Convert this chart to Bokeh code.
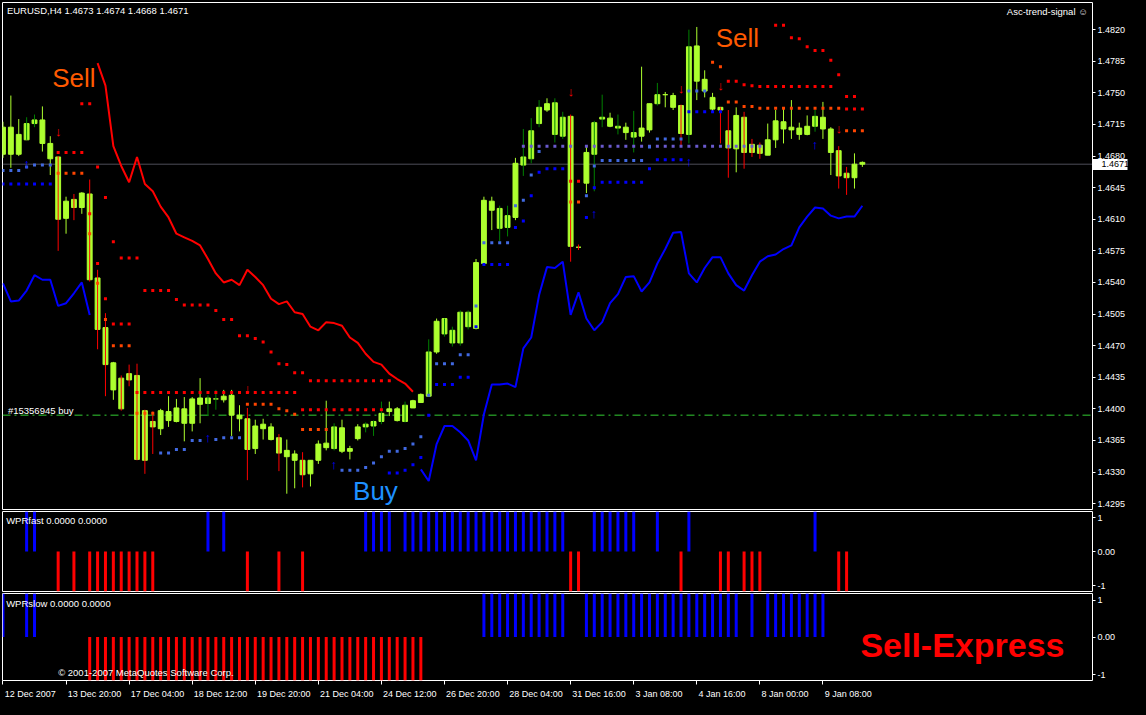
from bokeh.plotting import figure
from bokeh.layouts import column
from bokeh.models import (Range1d, FixedTicker, Span, LinearAxis, PrintfTickFormatter,
                          GlobalInlineStyleSheet)
from bokeh.core.properties import value
from bokeh.embed import file_html
from bokeh.resources import INLINE

# ------------------------------------------------------------------ data
header_text = "EURUSD,H4  1.4673 1.4674 1.4668 1.4671"
indicator_name = "Asc-trend-signal \u263a"
order_label = "#15356945 buy"
order_price = 1.4393
current_price = 1.4671

opens = [
    1.4682, 1.4712, 1.4682, 1.4698, 1.4716, 1.4720, 1.4694, 1.4679, 1.4611, 1.4632,
    1.4623, 1.4638, 1.4545, 1.4490, 1.4451, 1.4434, 1.4439, 1.4437, 1.4398, 1.4386,
    1.4378, 1.4397, 1.4386, 1.4400, 1.4384, 1.4405, 1.4406, 1.4411, 1.4410, 1.4415,
    1.4393, 1.4389, 1.4356, 1.4378, 1.4380, 1.4368, 1.4354, 1.4350, 1.4343, 1.4328,
    1.4343, 1.4357, 1.4356, 1.4379, 1.4353, 1.4367, 1.4380, 1.4381, 1.4386, 1.4397,
    1.4400, 1.4386, 1.4401, 1.4407, 1.4414, 1.4463, 1.4483, 1.4487, 1.4473, 1.4507,
    1.4489, 1.4561, 1.4630, 1.4600, 1.4601, 1.4612, 1.4670, 1.4677, 1.4716, 1.4731,
    1.4739, 1.4702, 1.4724, 1.4579, 1.4650, 1.4682, 1.4721, 1.4722, 1.4711, 1.4712,
    1.4701, 1.4702, 1.4709, 1.4738, 1.4748, 1.4747, 1.4736, 1.4704, 1.4802, 1.4765,
    1.4745, 1.4734, 1.4708, 1.4688, 1.4723, 1.4693, 1.4692, 1.4681, 1.4698, 1.4718,
    1.4712, 1.4711, 1.4704, 1.4713, 1.4723, 1.4710, 1.4686, 1.4661, 1.4656, 1.4673,
]
highs = [
    1.4718, 1.4747, 1.4721, 1.4723, 1.4726, 1.4735, 1.4702, 1.4680, 1.4635, 1.4638,
    1.4640, 1.4654, 1.4554, 1.4506, 1.4452, 1.4437, 1.4449, 1.4450, 1.4399, 1.4397,
    1.4400, 1.4414, 1.4411, 1.4413, 1.4413, 1.4434, 1.4415, 1.4421, 1.4421, 1.4421,
    1.4404, 1.4401, 1.4388, 1.4389, 1.4384, 1.4372, 1.4366, 1.4354, 1.4352, 1.4343,
    1.4365, 1.4409, 1.4384, 1.4388, 1.4359, 1.4383, 1.4385, 1.4387, 1.4408, 1.4408,
    1.4402, 1.4408, 1.4410, 1.4417, 1.4477, 1.4500, 1.4500, 1.4491, 1.4509, 1.4509,
    1.4566, 1.4635, 1.4635, 1.4625, 1.4625, 1.4678, 1.4710, 1.4722, 1.4742, 1.4744,
    1.4744, 1.4729, 1.4726, 1.4582, 1.4691, 1.4719, 1.4748, 1.4728, 1.4726, 1.4717,
    1.4730, 1.4779, 1.4738, 1.4761, 1.4751, 1.4750, 1.4737, 1.4820, 1.4823, 1.4775,
    1.4750, 1.4734, 1.4731, 1.4734, 1.4729, 1.4699, 1.4695, 1.4716, 1.4731, 1.4732,
    1.4742, 1.4717, 1.4725, 1.4731, 1.4740, 1.4712, 1.4691, 1.4668, 1.4683, 1.4674,
]
lows = [
    1.4678, 1.4667, 1.4680, 1.4698, 1.4712, 1.4685, 1.4659, 1.4575, 1.4594, 1.4609,
    1.4616, 1.4541, 1.4466, 1.4414, 1.4410, 1.4398, 1.4425, 1.4343, 1.4328, 1.4350,
    1.4371, 1.4380, 1.4385, 1.4364, 1.4375, 1.4384, 1.4392, 1.4399, 1.4407, 1.4370,
    1.4375, 1.4321, 1.4350, 1.4366, 1.4365, 1.4331, 1.4306, 1.4312, 1.4313, 1.4314,
    1.4339, 1.4354, 1.4354, 1.4351, 1.4344, 1.4365, 1.4374, 1.4370, 1.4383, 1.4392,
    1.4386, 1.4385, 1.4401, 1.4407, 1.4414, 1.4461, 1.4480, 1.4469, 1.4470, 1.4488,
    1.4488, 1.4560, 1.4598, 1.4586, 1.4591, 1.4609, 1.4658, 1.4672, 1.4712, 1.4729,
    1.4695, 1.4699, 1.4563, 1.4576, 1.4639, 1.4641, 1.4712, 1.4712, 1.4704, 1.4698,
    1.4684, 1.4696, 1.4706, 1.4736, 1.4734, 1.4731, 1.4691, 1.4694, 1.4742, 1.4745,
    1.4729, 1.4694, 1.4656, 1.4662, 1.4666, 1.4679, 1.4677, 1.4681, 1.4689, 1.4694,
    1.4699, 1.4698, 1.4703, 1.4707, 1.4699, 1.4659, 1.4644, 1.4637, 1.4644, 1.4668,
]
closes = [
    1.4712, 1.4682, 1.4704, 1.4716, 1.4720, 1.4694, 1.4677, 1.4610, 1.4630, 1.4623,
    1.4639, 1.4543, 1.4488, 1.4449, 1.4421, 1.4400, 1.4432, 1.4344, 1.4343, 1.4380,
    1.4398, 1.4387, 1.4401, 1.4384, 1.4411, 1.4412, 1.4412, 1.4411, 1.4414, 1.4393,
    1.4389, 1.4355, 1.4381, 1.4383, 1.4366, 1.4351, 1.4347, 1.4343, 1.4327, 1.4343,
    1.4361, 1.4362, 1.4380, 1.4353, 1.4356, 1.4380, 1.4383, 1.4386, 1.4395, 1.4400,
    1.4387, 1.4404, 1.4409, 1.4416, 1.4463, 1.4497, 1.4500, 1.4473, 1.4507, 1.4491,
    1.4562, 1.4631, 1.4620, 1.4622, 1.4614, 1.4672, 1.4679, 1.4708, 1.4734, 1.4738,
    1.4704, 1.4723, 1.4580, 1.4579, 1.4684, 1.4717, 1.4723, 1.4713, 1.4713, 1.4706,
    1.4706, 1.4711, 1.4738, 1.4748, 1.4748, 1.4734, 1.4705, 1.4801, 1.4763, 1.4752,
    1.4732, 1.4731, 1.4689, 1.4725, 1.4684, 1.4684, 1.4683, 1.4698, 1.4719, 1.4710,
    1.4709, 1.4704, 1.4713, 1.4724, 1.4710, 1.4684, 1.4658, 1.4656, 1.4671, 1.4671,
]
# wick colour seen on each candle: y = yellow-green, g = dark green, r = red
wick_kind = list(
    "yyyggyyryr" "yrrryrrrrr" "yyyyyyggyy" "yryyyryyry" "yygyyygggy"
    "ygyygygggg" "yyyggygggy" "ggrryggygy" "gyygyyrgyy" "yrryrrryyy"
    "yyygyyrryy"
)

# trailing stop dots (bar index, price)
stop_red_hi_bar = list(range(10, 50)) + list(range(98, 109))
stop_red_hi = [
    1.4738, 1.4738, 1.4668, 1.4634, 1.4585, 1.4567, 1.4567, 1.4567, 1.4531, 1.4531,
    1.4531, 1.4531, 1.4521, 1.4515, 1.4515, 1.4515, 1.4515, 1.4509, 1.4499, 1.4499,
    1.4481, 1.4481, 1.4478, 1.4474, 1.4463, 1.4450, 1.4449, 1.4440, 1.4440, 1.4431,
    1.4431, 1.4431, 1.4431, 1.4431, 1.4431, 1.4431, 1.4431, 1.4431, 1.4431, 1.4431,
    1.4825, 1.4825, 1.4811, 1.4810, 1.4801, 1.4797, 1.4797, 1.4786, 1.4770, 1.4746,
    1.4746,
]
stop_red_lo_bar = list(range(7, 49)) + [72, 73] + list(range(92, 106)) + [107, 108, 109]
stop_red_lo = [
    1.4684, 1.4684, 1.4684, 1.4684, 1.4616, 1.4561, 1.4522, 1.4494, 1.4494, 1.4494,
    1.4418, 1.4418, 1.4418, 1.4418, 1.4418, 1.4418, 1.4418, 1.4418, 1.4418, 1.4418,
    1.4418, 1.4418, 1.4418, 1.4418, 1.4418, 1.4418, 1.4418, 1.4418, 1.4418, 1.4418,
    1.4418, 1.4399, 1.4399, 1.4399, 1.4399, 1.4399, 1.4399, 1.4399, 1.4399, 1.4399,
    1.4399, 1.4399,
    1.4652, 1.4652,
    1.4763, 1.4763, 1.4759, 1.4758, 1.4757, 1.4757, 1.4757, 1.4757, 1.4757, 1.4757,
    1.4757, 1.4757, 1.4757, 1.4757,
    1.4732, 1.4732, 1.4732,
]
stop_orange_bar = list(range(7, 20)) + list(range(31, 42)) + [72, 73] + list(range(90, 110))
stop_orange = [
    1.4661, 1.4661, 1.4661, 1.4661, 1.4594, 1.4539, 1.4499, 1.4470, 1.4470, 1.4470,
    1.4395, 1.4395, 1.4395,
    1.4405, 1.4405, 1.4405, 1.4405, 1.4400, 1.4398, 1.4394, 1.4377, 1.4377, 1.4377,
    1.4377,
    1.4629, 1.4629,
    1.4784, 1.4779, 1.4740, 1.4740, 1.4735, 1.4735, 1.4733, 1.4733, 1.4733, 1.4733,
    1.4733, 1.4733, 1.4733, 1.4733, 1.4733, 1.4733, 1.4733, 1.4708, 1.4708, 1.4708,
]
stop_royal_bar = (list(range(0, 7)) + list(range(20, 26)) + list(range(27, 31))
                  + list(range(43, 69)) + list(range(74, 90)))
stop_royal = [
    1.4664, 1.4664, 1.4664, 1.4668, 1.4670, 1.4670, 1.4670,
    1.4351, 1.4351, 1.4355, 1.4355, 1.4365, 1.4365,
    1.4366, 1.4368, 1.4368, 1.4368,
    1.4332, 1.4332, 1.4332, 1.4335, 1.4340, 1.4347, 1.4353, 1.4353, 1.4356, 1.4361,
    1.4369, 1.4415, 1.4450, 1.4450, 1.4450, 1.4460, 1.4460, 1.4514, 1.4584, 1.4584,
    1.4584, 1.4584, 1.4625, 1.4631, 1.4659, 1.4685,
    1.4636, 1.4669, 1.4675, 1.4675, 1.4675, 1.4675, 1.4675, 1.4675, 1.4690, 1.4699,
    1.4699, 1.4699, 1.4699, 1.4752, 1.4752, 1.4752,
]
stop_blue_bar = list(range(0, 7)) + list(range(49, 72)) + list(range(74, 92))
stop_blue = [
    1.4649, 1.4649, 1.4649, 1.4649, 1.4649, 1.4649, 1.4649,
    1.4329, 1.4329, 1.4332, 1.4338, 1.4346, 1.4393, 1.4427, 1.4427, 1.4427, 1.4435,
    1.4435, 1.4491, 1.4560, 1.4560, 1.4560, 1.4560, 1.4601, 1.4608, 1.4636, 1.4662,
    1.4666, 1.4666, 1.4666,
    1.4612, 1.4645, 1.4651, 1.4651, 1.4651, 1.4651, 1.4651, 1.4651, 1.4666, 1.4676,
    1.4676, 1.4676, 1.4676, 1.4729, 1.4729, 1.4729, 1.4729, 1.4729,
]
stop_violet_bar = list(range(66, 73)) + list(range(74, 97))
stop_violet = [
    1.4691, 1.4691, 1.4691, 1.4691, 1.4691, 1.4691, 1.4691, 1.4691, 1.4691, 1.4691,
    1.4691, 1.4691, 1.4691, 1.4691, 1.4691, 1.4691, 1.4691, 1.4691, 1.4691, 1.4691,
    1.4691, 1.4691, 1.4691, 1.4691, 1.4691, 1.4691, 1.4691, 1.4691, 1.4691, 1.4691,
]

sell_arrow_bar = [7, 31, 72, 86, 91, 106]
sell_arrow = [1.4707, 1.4422, 1.4751, 1.4755, 1.4758, 1.4710]
buy_arrow_bar = [3, 26, 42, 75, 87, 103]
buy_arrow = [1.4672, 1.4368, 1.4338, 1.4616, 1.4674, 1.4693]

red_line_bar = list(range(12, 53))
red_line = [
    1.4783, 1.4758, 1.4691, 1.4669, 1.4651, 1.4679, 1.4649, 1.4641, 1.4624, 1.4612,
    1.4594, 1.4590, 1.4586, 1.4581, 1.4566, 1.4550, 1.4540, 1.4543, 1.4537, 1.4554,
    1.4546, 1.4537, 1.4522, 1.4516, 1.4519, 1.4507, 1.4505, 1.4491, 1.4487, 1.4496,
    1.4495, 1.4492, 1.4479, 1.4473, 1.4461, 1.4452, 1.4449, 1.4439, 1.4433, 1.4428,
    1.4419,
]
blue_line_a_bar = list(range(0, 12))
blue_line_a = [1.4539, 1.4519, 1.4520, 1.4531, 1.4548, 1.4543, 1.4543, 1.4514,
               1.4517, 1.4528, 1.4540, 1.4504]
blue_line_b_bar = list(range(53, 110))
blue_line_b = [
    1.4333, 1.4320, 1.4361, 1.4381, 1.4381, 1.4374, 1.4365, 1.4343, 1.4394, 1.4427,
    1.4427, 1.4428, 1.4424, 1.4467, 1.4479, 1.4526, 1.4557, 1.4556, 1.4563, 1.4504,
    1.4529, 1.4500, 1.4487, 1.4496, 1.4517, 1.4527, 1.4546, 1.4547, 1.4530, 1.4540,
    1.4561, 1.4577, 1.4595, 1.4596, 1.4550, 1.4540, 1.4556, 1.4568, 1.4568, 1.4550,
    1.4537, 1.4531, 1.4548, 1.4563, 1.4569, 1.4571, 1.4577, 1.4581, 1.4601, 1.4613,
    1.4623, 1.4622, 1.4614, 1.4611, 1.4613, 1.4613, 1.4625,
]

wpr_fast = [
    0, 0, 0, 1, 1, 0, 0, -1, 0, -1,
    0, -1, -1, -1, -1, -1, -1, -1, -1, -1,
    0, 0, 0, 0, 0, 0, 1, 0, 1, 0,
    0, -1, 0, 0, 0, -1, 0, 0, -1, 0,
    0, 0, 0, 0, 0, 0, 1, 1, 1, 1,
    0, 1, 1, 1, 1, 1, 1, 1, 1, 1,
    1, 1, 1, 1, 1, 1, 1, 1, 1, 1,
    1, 1, -1, -1, 0, 1, 1, 1, 1, 1,
    1, 0, 0, 1, 0, 0, -1, 1, 0, 0,
    0, -1, -1, 0, -1, -1, -1, 0, 0, 0,
    0, 0, 0, 1, 0, 0, -1, -1, 0, 0,
]
wpr_slow = [
    1, 0, 0, 1, 1, 0, 0, 0, 0, 0,
    0, -1, -1, -1, -1, -1, -1, -1, -1, -1,
    -1, -1, -1, -1, -1, -1, -1, -1, -1, -1,
    -1, -1, -1, -1, -1, -1, -1, -1, -1, -1,
    -1, -1, -1, -1, -1, -1, -1, -1, -1, -1,
    -1, -1, -1, -1, 0, 0, 0, 0, 0, 0,
    0, 1, 1, 1, 1, 1, 1, 1, 1, 1,
    1, 1, 0, 0, 1, 1, 1, 1, 1, 1,
    1, 1, 1, 1, 1, 1, 1, 1, 1, 1,
    1, 1, 1, 1, 0, 1, 0, 1, 1, 1,
    1, 1, 1, 1, 1, 0, 0, 0, 0, 0,
]

price_ticks = [1.4295, 1.4330, 1.4365, 1.4400, 1.4435, 1.4470, 1.4505, 1.4540,
               1.4575, 1.4610, 1.4645, 1.4680, 1.4715, 1.4750, 1.4785, 1.4820]
time_tick_bars = [0, 8, 16, 24, 32, 40, 48, 56, 64, 72, 80, 88, 96, 104]
time_labels = ["12 Dec 2007", "13 Dec 20:00", "17 Dec 04:00", "18 Dec 12:00",
               "19 Dec 20:00", "21 Dec 04:00", "24 Dec 12:00", "26 Dec 20:00",
               "28 Dec 04:00", "31 Dec 16:00", "3 Jan 08:00", "4 Jan 16:00",
               "8 Jan 00:00", "9 Jan 08:00"]

for a, b in [(stop_red_hi_bar, stop_red_hi), (stop_red_lo_bar, stop_red_lo),
             (stop_orange_bar, stop_orange), (stop_royal_bar, stop_royal),
             (stop_blue_bar, stop_blue), (stop_violet_bar, stop_violet),
             (red_line_bar, red_line), (blue_line_a_bar, blue_line_a),
             (blue_line_b_bar, blue_line_b)]:
    assert len(a) == len(b), (len(a), len(b))
assert len(wick_kind) == len(opens) == len(highs) == len(lows) == len(closes) == 110

# ------------------------------------------------------------------ layout
FONT = "Liberation Sans"
FW = 1090
XR = Range1d(-0.06, 138.19)


def style_y_axis(ax):
    ax.axis_line_color = None
    ax.major_tick_line_color = "white"
    ax.major_tick_in = 0
    ax.major_tick_out = 3
    ax.minor_tick_line_color = None
    ax.minor_tick_in = 0
    ax.minor_tick_out = 0
    ax.major_label_text_color = "white"
    ax.major_label_text_font = FONT
    ax.major_label_text_font_size = "9px"
    ax.major_label_standoff = 2


def make_fig(frame_h, yr, top, bottom, x_axis_location=None):
    p = figure(frame_width=FW, frame_height=frame_h, x_range=XR, y_range=yr,
               output_backend="svg", toolbar_location=None,
               background_fill_color="black", border_fill_color="black",
               outline_line_color="white", outline_line_width=1,
               y_axis_location="right", x_axis_location=x_axis_location,
               min_border_left=2, min_border_right=38,
               min_border_top=top, min_border_bottom=bottom)
    p.grid.visible = False
    style_y_axis(p.yaxis[0])
    return p


# ---------------- main price panel
p1 = make_fig(507, Range1d(1.42885, 1.48501), 2, 1)
price_axis = p1.yaxis[0]
price_axis.ticker = FixedTicker(ticks=price_ticks)
price_axis.formatter = PrintfTickFormatter(format="%.4f")

# current price marker on the price scale:
#  - box_axis (next to the frame, zero width): a thick white tick = the white box
#  - text_axis (after the price labels, ~zero width): black price text pulled back onto the box
box_axis = LinearAxis(ticker=FixedTicker(ticks=[current_price]),
                      major_label_overrides={current_price: ""})
box_axis.axis_line_color = None
box_axis.minor_tick_line_color = None
box_axis.minor_tick_in = 0
box_axis.minor_tick_out = 0
box_axis.major_tick_line_color = "white"
box_axis.major_tick_line_width = 11
box_axis.major_tick_out = 0
box_axis.major_tick_in = -35
box_axis.major_label_standoff = 0
box_axis.major_label_text_font_size = "9px"

text_axis = LinearAxis(ticker=FixedTicker(ticks=[current_price]),
                       formatter=PrintfTickFormatter(format="%.4f"))
text_axis.axis_line_color = None
text_axis.minor_tick_line_color = None
text_axis.minor_tick_in = 0
text_axis.minor_tick_out = 0
text_axis.major_tick_line_color = None
text_axis.major_tick_in = 0
text_axis.major_tick_out = 0
text_axis.major_label_standoff = -27
text_axis.major_label_text_color = "black"
text_axis.major_label_text_font = FONT
text_axis.major_label_text_font_size = "9px"

p1.right = [box_axis, price_axis, text_axis]

p1.add_layout(Span(location=current_price, dimension="width", line_color="#9A9AB0",
                   line_dash="1 1", line_width=1, level="underlay"))
p1.add_layout(Span(location=order_price, dimension="width", line_color="#32CD32",
                   line_dash="8 4 2 4", line_width=1, level="underlay"))

bars = list(range(len(opens)))
body_top = [max(o, c) for o, c in zip(opens, closes)]
body_bottom = [min(o, c) for o, c in zip(opens, closes)]
WICK = {"y": "#ADFF2F", "g": "#008000", "r": "#FF0000"}
wick_colors = [WICK[k] for k in wick_kind]
p1.vbar(x=bars, width=0.62, top=body_top, bottom=body_bottom,
        fill_color="#ADFF2F", line_color="#ADFF2F", line_width=1)
p1.segment(x0=bars, y0=lows, x1=bars, y1=highs, line_color=wick_colors, line_width=1)

p1.line(red_line_bar, red_line, line_color="#FF0000", line_width=2)
p1.line(blue_line_a_bar, blue_line_a, line_color="#0000FF", line_width=2)
p1.line(blue_line_b_bar, blue_line_b, line_color="#0000FF", line_width=2)

for bx, py, col in [(stop_red_hi_bar, stop_red_hi, "#FF0000"),
                    (stop_red_lo_bar, stop_red_lo, "#FF0000"),
                    (stop_orange_bar, stop_orange, "#FF4500"),
                    (stop_violet_bar, stop_violet, "#6A5ACD"),
                    (stop_royal_bar, stop_royal, "#4169E1"),
                    (stop_blue_bar, stop_blue, "#0000FF")]:
    p1.scatter(x=bx, y=py, marker="square", size=3, fill_color=col, line_color=None)

p1.text(x=sell_arrow_bar, y=sell_arrow, text=["\u2193"] * len(sell_arrow_bar),
        text_color="#FF0000", text_font=value(FONT), text_font_style="bold",
        text_font_size="13px", text_align="center", text_baseline="middle")
p1.text(x=buy_arrow_bar, y=buy_arrow, text=["\u2191"] * len(buy_arrow_bar),
        text_color="#0000FF", text_font=value(FONT), text_font_style="bold",
        text_font_size="13px", text_align="center", text_baseline="middle")

p1.text(x=[0.5], y=[1.48415], text=[header_text], text_color="white",
        text_font=value(FONT), text_font_size="9.5px", text_align="left",
        text_baseline="middle")
p1.text(x=[137.6], y=[1.48398], text=[indicator_name], text_color="white",
        text_font=value(FONT), text_font_size="9.5px", text_align="right",
        text_baseline="middle")
p1.text(x=[0.63], y=[1.43987], text=[order_label], text_color="white",
        text_font=value(FONT), text_font_size="9.5px", text_align="left",
        text_baseline="middle")
p1.text(x=[6.25, 90.4], y=[1.4766, 1.4811], text=["Sell", "Sell"], text_color="#FF5A00",
        text_font=value(FONT), text_font_size="26px", text_align="left",
        text_baseline="alphabetic")
p1.text(x=[44.4], y=[1.4309], text=["Buy"], text_color="#1E90FF",
        text_font=value(FONT), text_font_size="26px", text_align="left",
        text_baseline="alphabetic")

# ---------------- WPRfast panel
p2 = make_fig(80, Range1d(-1, 1), 1, 1)
p2.yaxis.ticker = FixedTicker(ticks=[0.84, 0, -0.86])
p2.yaxis.major_label_overrides = {0.84: "1", 0: "0.00", -0.86: "-1"}
p2.vbar(x=bars, top=wpr_fast, bottom=0, width=0.38,
        fill_color=["#0000FF" if v > 0 else "#FF0000" for v in wpr_fast], line_color=None)
p2.text(x=[0.4], y=[0.765], text=["WPRfast 0.0000 0.0000"], text_color="white",
        text_font=value(FONT), text_font_size="9.5px", text_align="left",
        text_baseline="middle")

# ---------------- WPRslow panel
p3 = make_fig(87, Range1d(-1, 1), 1, 17, x_axis_location="below")
p3.yaxis.ticker = FixedTicker(ticks=[0.85, 0, -0.87])
p3.yaxis.major_label_overrides = {0.85: "1", 0: "0.00", -0.87: "-1"}
p3.vbar(x=bars, top=wpr_slow, bottom=0, width=0.38,
        fill_color=["#0000FF" if v > 0 else "#FF0000" for v in wpr_slow], line_color=None)
p3.text(x=[0.4], y=[0.78], text=["WPRslow 0.0000 0.0000"], text_color="white",
        text_font=value(FONT), text_font_size="9.5px", text_align="left",
        text_baseline="middle")
p3.text(x=[7.0], y=[-0.81], text=["\u00a9 2001-2007 MetaQuotes Software Corp."],
        text_color="white", text_font=value(FONT), text_font_size="9.5px",
        text_align="left", text_baseline="middle")
p3.text(x=[108.75], y=[-0.195], text=["Sell-Express"], text_color="#FF0000",
        text_font=value(FONT), text_font_style="bold", text_font_size="34px",
        text_align="left", text_baseline="alphabetic")

# time axis: tick marks at the bars, labels written to the right of each mark
label_offsets = [3.45] + [3.6] * 9 + [3.2] * 4
label_centers = [round(t + o, 3) for t, o in zip(time_tick_bars, label_offsets)]
xa = p3.xaxis[0]
xa.ticker = FixedTicker(ticks=label_centers, minor_ticks=time_tick_bars)
xa.major_label_overrides = dict(zip(label_centers, time_labels))
xa.axis_line_color = None
xa.major_tick_line_color = None
xa.major_tick_out = 0
xa.major_tick_in = 0
xa.minor_tick_line_color = "white"
xa.minor_tick_out = 4
xa.minor_tick_in = 0
xa.major_label_text_color = "white"
xa.major_label_text_font = FONT
xa.major_label_text_font_size = "9px"
xa.major_label_standoff = 4

layout = column(p1, p2, p3, spacing=0,
                stylesheets=[GlobalInlineStyleSheet(css="html, body { background-color: #000000; }")])
open("out.html", "w").write(file_html(layout, INLINE))
